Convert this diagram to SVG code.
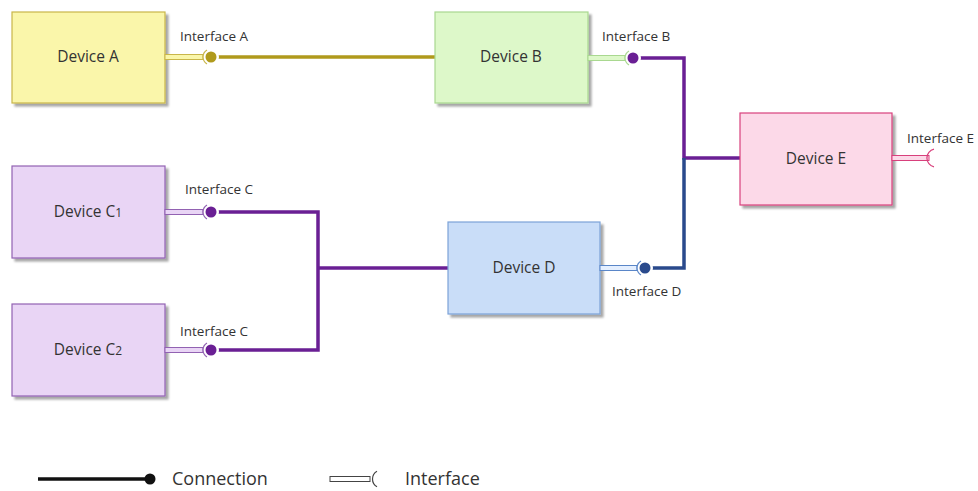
<svg xmlns="http://www.w3.org/2000/svg" width="978" height="491" viewBox="0 0 978 491">
  <defs>
    <filter id="shadow" x="-10%" y="-10%" width="130%" height="130%">
      <feGaussianBlur in="SourceAlpha" stdDeviation="1.2"/>
      <feOffset dx="3" dy="3" result="b"/>
      <feComponentTransfer><feFuncA type="linear" slope="0.35"/></feComponentTransfer>
      <feMerge><feMergeNode/><feMergeNode in="SourceGraphic"/></feMerge>
    </filter>
  </defs>
  <style>
    .box { stroke-width: 1.2; filter: url(#shadow); }
    .dev { font-family: "Open Sans", "Liberation Sans", sans-serif; font-size: 15.5px; fill: #333; text-anchor: middle; }
    .lbl { font-family: "Open Sans", "Liberation Sans", sans-serif; font-size: 13.5px; fill: #333; }
    .leg { font-family: "Open Sans", "Liberation Sans", sans-serif; font-size: 18px; fill: #333; }
    .wire { fill: none; stroke-width: 3.5; stroke-linejoin: miter; }
    .cup { fill: none; stroke-width: 1.2; }
    .halo { fill: #fff; }
  </style>
  <rect width="978" height="491" fill="#ffffff"/>

  <!-- connectors -->
  <g id="connectors">
    <path class="wire" stroke="#b09a1c" d="M211 57 H436"/>
    <path class="wire" stroke="#6a1f94" d="M633 58 H684 V158 H740"/>
    <path class="wire" stroke="#2a4a8c" d="M684 158 V268 H645"/>
    <path class="wire" stroke="#6a1f94" d="M211 212 H318 V350 H211"/>
    <path class="wire" stroke="#6a1f94" d="M318 268 H449"/>
  </g>

  <!-- Device A -->
  <g id="device-a">
    <rect class="box" x="12" y="12" width="153" height="91" fill="#faf6aa" stroke="#c9b64a"/>
    <text class="dev" x="88" y="62">Device A</text>
    <rect x="165" y="54.5" width="38" height="5" fill="#faf6aa" stroke="#c9b64a" stroke-width="1"/>
    <circle class="halo" cx="211" cy="57" r="8"/>
    <path class="cup" stroke="#c9b64a" d="M207 50.1 A8 8 0 0 0 207 63.9"/>
    <circle cx="211" cy="57" r="5.5" fill="#b09a1c"/>
    <text class="lbl" x="180" y="41">Interface A</text>
  </g>

  <!-- Device B -->
  <g id="device-b">
    <rect class="box" x="435" y="12" width="153" height="91" fill="#ddf8c9" stroke="#a9d890"/>
    <text class="dev" x="511" y="62">Device B</text>
    <rect x="588" y="55.5" width="37" height="5" fill="#ddf8c9" stroke="#a9d890" stroke-width="1"/>
    <circle class="halo" cx="633" cy="58" r="8"/>
    <path class="cup" stroke="#a9d890" d="M629 51.1 A8 8 0 0 0 629 64.9"/>
    <circle cx="633" cy="58" r="5.5" fill="#6a1f94"/>
    <text class="lbl" x="602" y="41">Interface B</text>
  </g>

  <!-- Device E -->
  <g id="device-e">
    <rect class="box" x="740" y="113" width="152" height="92" fill="#fcd9e8" stroke="#d8407c"/>
    <text class="dev" x="816" y="164">Device E</text>
    <rect x="892" y="155.5" width="37" height="5" fill="#fcd9e8" stroke="#d8407c" stroke-width="1"/>
    <path class="cup" stroke="#d8407c" d="M934 149.2 A9 9 0 0 0 934 166.8"/>
    <text class="lbl" x="907" y="143">Interface E</text>
  </g>

  <!-- Device C1 -->
  <g id="device-c1">
    <rect class="box" x="12" y="166" width="153" height="92" fill="#e9d5f5" stroke="#9262b2"/>
    <text class="dev" x="88" y="217">Device C<tspan font-size="12">1</tspan></text>
    <rect x="165" y="209.5" width="38" height="5" fill="#e9d5f5" stroke="#9262b2" stroke-width="1"/>
    <circle class="halo" cx="211" cy="212" r="8"/>
    <path class="cup" stroke="#9262b2" d="M207 205.1 A8 8 0 0 0 207 218.9"/>
    <circle cx="211" cy="212" r="5.5" fill="#6a1f94"/>
    <text class="lbl" x="185" y="194">Interface C</text>
  </g>

  <!-- Device C2 -->
  <g id="device-c2">
    <rect class="box" x="12" y="304" width="153" height="92" fill="#e9d5f5" stroke="#9262b2"/>
    <text class="dev" x="88" y="355">Device C<tspan font-size="12">2</tspan></text>
    <rect x="165" y="347.5" width="38" height="5" fill="#e9d5f5" stroke="#9262b2" stroke-width="1"/>
    <circle class="halo" cx="211" cy="350" r="8"/>
    <path class="cup" stroke="#9262b2" d="M207 343.1 A8 8 0 0 0 207 356.9"/>
    <circle cx="211" cy="350" r="5.5" fill="#6a1f94"/>
    <text class="lbl" x="180" y="336">Interface C</text>
  </g>

  <!-- Device D -->
  <g id="device-d">
    <rect class="box" x="448" y="222" width="152" height="92" fill="#c9ddf8" stroke="#7ca2d8"/>
    <text class="dev" x="524" y="273">Device D</text>
    <rect x="600" y="265.5" width="37" height="5" fill="#e4efff" stroke="#5a86c8" stroke-width="1"/>
    <circle class="halo" cx="645" cy="268" r="8"/>
    <path class="cup" stroke="#5a86c8" d="M641 261.1 A8 8 0 0 0 641 274.9"/>
    <circle cx="645" cy="268" r="5.5" fill="#2a4a8c"/>
    <text class="lbl" x="612" y="296">Interface D</text>
  </g>

  <!-- legend -->
  <g id="legend">
    <path d="M38 479 H150" stroke="#111" stroke-width="3.5" fill="none"/>
    <circle cx="150" cy="479" r="5.5" fill="#111"/>
    <text class="leg" x="172" y="485">Connection</text>
    <rect x="330" y="476.5" width="40" height="5" fill="#fff" stroke="#444" stroke-width="1"/>
    <path class="cup" stroke="#444" d="M377 471.2 A9 9 0 0 0 377 486.8"/>
    <text class="leg" x="405" y="485">Interface</text>
  </g>
</svg>
